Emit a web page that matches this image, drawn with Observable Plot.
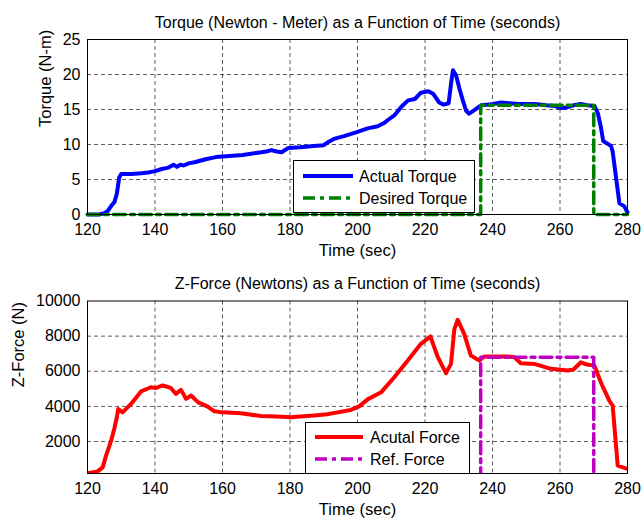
<!DOCTYPE html>
<html>
<head>
<meta charset="utf-8">
<script src="https://cdn.jsdelivr.net/npm/d3@7"></script>
<script src="https://cdn.jsdelivr.net/npm/@observablehq/plot@0.6"></script>
<style>
  html, body { margin: 0; padding: 0; background: #fff; }
  #wrap { position: relative; width: 644px; height: 518px; font-family: "Liberation Sans", Arial, sans-serif; }
  .chart { position: absolute; left: 0; }
  .legend { position: absolute; background: #fff; border: 1px solid #000; box-sizing: border-box; }
  .legend svg { display: block; }
</style>
</head>
<body>
<div id="wrap"></div>
<script>
// ---------- data ----------
const timeTicks = [120, 140, 160, 180, 200, 220, 240, 260, 280];
const torqueTicks = [0, 5, 10, 15, 20, 25];
const forceTicks = [2000, 4000, 6000, 8000, 10000];

const torqueTime = [120, 123.5, 125, 126, 127, 128, 128.7, 129.4, 130, 133, 136, 138, 140, 142, 144, 145.5, 146.5, 147.5, 148.5, 150, 152, 155, 158, 160, 163, 166, 170, 173, 174.5, 176, 177.5, 179.5, 183, 187, 190, 191.5, 193, 196, 200, 203, 206, 208, 209, 211, 212, 213, 215, 217, 218.8, 221, 222.5, 224.2, 225.5, 227, 227.8, 228.3, 229.2, 230.2, 231.2, 232.2, 233.1, 234.6, 236.6, 239, 242.5, 245, 248, 252.4, 256, 258.5, 260.3, 262, 264, 266.2, 268, 270.2, 271.2, 272.1, 272.8, 275.1, 275.6, 277.6, 279, 280];
const torqueActual = [0, 0, 0.2, 0.5, 1.2, 1.8, 3.0, 5.3, 5.8, 5.8, 5.9, 6.0, 6.2, 6.5, 6.7, 7.1, 6.8, 7.1, 7.0, 7.3, 7.5, 7.9, 8.2, 8.3, 8.4, 8.5, 8.8, 9.0, 9.2, 9.0, 8.9, 9.5, 9.6, 9.8, 9.9, 10.4, 10.8, 11.2, 11.8, 12.3, 12.6, 13.1, 13.5, 14.2, 14.8, 15.4, 16.3, 16.5, 17.4, 17.6, 17.2, 16.0, 15.7, 15.9, 19.0, 20.6, 19.9, 18.0, 16.3, 14.8, 14.4, 14.9, 15.6, 15.7, 16.0, 15.9, 15.8, 15.8, 15.6, 15.5, 15.2, 15.3, 15.6, 15.8, 15.6, 15.5, 14.5, 12.5, 10.5, 9.8, 9.0, 1.6, 1.2, 0.3];

const desiredTime = [120, 236.5, 236.5, 270, 270, 280];
const desiredTorque = [0, 0, 15.6, 15.6, 0, 0];

const forceTime = [120, 123, 124.5, 125.5, 127, 127.9, 128.7, 129.1, 130.4, 132.9, 135.9, 138.8, 140.3, 142.3, 144.7, 146.2, 147.7, 149.2, 150.7, 152.7, 155.6, 157.6, 159.9, 165.5, 171.4, 176, 180.3, 183, 187.2, 191, 194.1, 198, 200.5, 203, 207, 210.9, 214.9, 218.8, 221.6, 223.8, 226.2, 227.7, 228.7, 229.7, 231.6, 233.6, 236.1, 237.6, 244.5, 246.5, 248.4, 252.4, 257.3, 262.3, 264, 266.2, 268, 270.2, 272.1, 274.6, 275.6, 277.1, 280];
const forceActual = [190, 300, 530, 1200, 2050, 2700, 3380, 3850, 3660, 4140, 4860, 5090, 5050, 5190, 5050, 4710, 4940, 4430, 4620, 4240, 3990, 3720, 3660, 3610, 3450, 3420, 3380, 3420, 3480, 3550, 3660, 3800, 4000, 4400, 4800, 5660, 6610, 7560, 7980, 6800, 5890, 6420, 8400, 8930, 8130, 6890, 6610, 6840, 6840, 6800, 6460, 6420, 6140, 6040, 6100, 6510, 6380, 6320, 5370, 4330, 4050, 630, 440];

const refTime = [120, 236.5, 236.5, 270, 270, 280];
const refForce = [0, 0, 6800, 6800, 0, 0];

// ---------- build tables ----------
const torqueData = torqueTime.map((t, i) => ({t, v: torqueActual[i]}));
const desiredData = desiredTime.map((t, i) => ({t, v: desiredTorque[i]}));
const forceData = forceTime.map((t, i) => ({t, v: forceActual[i]}));
const refData = refTime.map((t, i) => ({t, v: refForce[i]}));

const FONT = "'Liberation Sans', Arial, sans-serif";
const gridStyle = {stroke: "#000", strokeOpacity: 0.8, strokeWidth: 0.8, strokeDasharray: "4,3"};

function makeChart({height, marginTop, marginBottom, yDomain, yTicks, series, title, ylabel, ylabelDx}) {
  return Plot.plot({
    width: 644,
    height,
    marginTop,
    marginBottom,
    marginLeft: 87,
    marginRight: 17,
    style: {fontFamily: FONT, fontSize: "16px", color: "#000", background: "#fff", overflow: "visible"},
    x: {domain: [120, 280], label: null},
    y: {domain: yDomain, label: null},
    marks: [
      Plot.gridX(timeTicks.slice(1, -1), gridStyle),
      Plot.gridY(yTicks.filter(d => d > yDomain[0] && d < yDomain[1]), gridStyle),
      ...series,
      Plot.frame({stroke: "#000", strokeWidth: 1}),
      Plot.axisX(timeTicks, {tickSize: 0, tickPadding: 9, fontSize: 16, label: null, tickFormat: d3.format("d")}),
      Plot.axisY(yTicks, {tickSize: 0, tickPadding: 7, fontSize: 16, label: null, tickFormat: d3.format("d")}),
      Plot.text([title], {frameAnchor: "top", dy: -23, fontSize: 16, fill: "#000"}),
      Plot.text(["Time (sec)"], {frameAnchor: "bottom", dy: 41, fontSize: 16.5, fill: "#000"}),
      Plot.text([ylabel], {frameAnchor: "left", dx: ylabelDx, rotate: -90, fontSize: 16.5, fill: "#000"})
    ]
  });
}

const topChart = makeChart({
  height: 260, marginTop: 39, marginBottom: 46,
  yDomain: [0, 25], yTicks: torqueTicks,
  title: "Torque (Newton - Meter) as a Function of Time (seconds)",
  ylabel: "Torque (N-m)", ylabelDx: -42,
  series: [
    Plot.line(torqueData, {x: "t", y: "v", stroke: "#0000ff", strokeWidth: 4, strokeLinejoin: "round"}),
    Plot.line(desiredData, {x: "t", y: "v", stroke: "#008000", strokeWidth: 3.5, strokeDasharray: "12,5,4,5"})
  ]
});

const bottomChart = makeChart({
  height: 258, marginTop: 40.5, marginBottom: 45,
  yDomain: [180, 10000], yTicks: forceTicks,
  title: "Z-Force (Newtons) as a Function of Time (seconds)",
  ylabel: "Z-Force (N)", ylabelDx: -69,
  series: [
    Plot.line(forceData, {x: "t", y: "v", stroke: "#ff0000", strokeWidth: 4, strokeLinejoin: "round", clip: true}),
    Plot.line(refData, {x: "t", y: "v", stroke: "#c000c0", strokeWidth: 3.5, strokeDasharray: "12,5,4,5", clip: true})
  ]
});

const wrap = document.getElementById("wrap");
topChart.classList.add("chart");
topChart.style.top = "0px";
bottomChart.classList.add("chart");
bottomChart.style.top = "260px";
wrap.appendChild(topChart);
wrap.appendChild(bottomChart);

function legend({left, top, width, height, lineX0, lineX1, textX, rows}) {
  const div = document.createElement("div");
  div.className = "legend";
  Object.assign(div.style, {left: left + "px", top: top + "px", width: width + "px", height: height + "px"});
  const svg = d3.create("svg").attr("width", width - 2).attr("height", height - 2);
  rows.forEach((r, i) => {
    svg.append("line").attr("x1", lineX0).attr("x2", lineX1).attr("y1", r.y).attr("y2", r.y)
      .attr("stroke", r.color).attr("stroke-width", r.width).attr("stroke-dasharray", r.dash || null);
    svg.append("text").attr("x", textX).attr("y", r.y).attr("dy", "0.35em")
      .attr("font-family", FONT).attr("font-size", 16).attr("fill", "#000").text(r.label);
  });
  div.appendChild(svg.node());
  wrap.appendChild(div);
}

legend({left: 293, top: 160, width: 182, height: 53, lineX0: 9, lineX1: 59, textX: 65,
  rows: [
    {label: "Actual Torque", color: "#0000ff", width: 4, y: 15},
    {label: "Desired Torque", color: "#008000", width: 3.5, dash: "12,5,4,5", y: 37}
  ]});

legend({left: 305, top: 422, width: 165, height: 52, lineX0: 9, lineX1: 57, textX: 64,
  rows: [
    {label: "Acutal Force", color: "#ff0000", width: 4, y: 14},
    {label: "Ref. Force", color: "#c000c0", width: 3.5, dash: "12,5,4,5", y: 36}
  ]});
</script>
</body>
</html>
